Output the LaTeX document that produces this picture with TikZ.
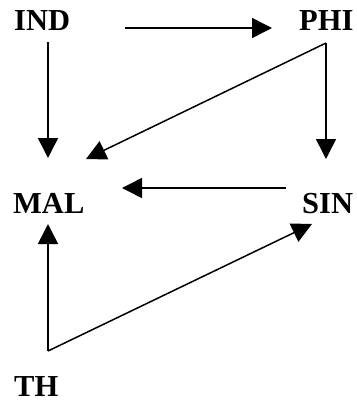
\documentclass[tikz,border=0pt]{standalone}
\usepackage{fontspec}
\setmainfont{Liberation Serif}
\usetikzlibrary{arrows.meta,calc}
\tikzset{
  label/.style={anchor=base west, inner sep=0pt, font=\fontsize{30.5bp}{36bp}\selectfont\bfseries},
  arr/.style={line width=1.5bp, -{Triangle[length=20bp,width=20bp]}}
}
\begin{document}
\begin{tikzpicture}[x=1bp, y=-1bp]
  \useasboundingbox (0,0) rectangle (357,402);
  % labels
  \node[label] (IND) at (14,30) {IND};
  \node[label] (PHI) at (299,30) {PHI};
  \node[label] (MAL) at (13,213) {MAL};
  \node[label] (SIN) at (302,213) {SIN};
  \node[label] (TH) at (14,396) {TH};
  % bend point below MAL
  \coordinate (corner) at ($(TH.base west)+(34,-45)$);
  % connectors
  \draw[arr] ($(IND.base west)+(111,-2)$) -- ($(PHI.base west)+(-27,-2)$);
  \draw[arr] ($(IND.base west)+(34,12)$) -- ($(MAL.base west)+(35,-55)$);
  \draw[arr] ($(PHI.base west)+(27,13)$) -- ($(MAL.base west)+(73,-54)$);
  \draw[arr] ($(PHI.base west)+(27,13)$) -- ($(SIN.base west)+(24,-54)$);
  \draw[arr] ($(SIN.base west)+(-16,-25)$) -- ($(MAL.base west)+(109,-25)$);
  \draw[arr] (corner) -- ($(MAL.base west)+(35,11)$);
  \draw[arr] (corner) -- ($(SIN.base west)+(10,11)$);
\end{tikzpicture}
\end{document}
